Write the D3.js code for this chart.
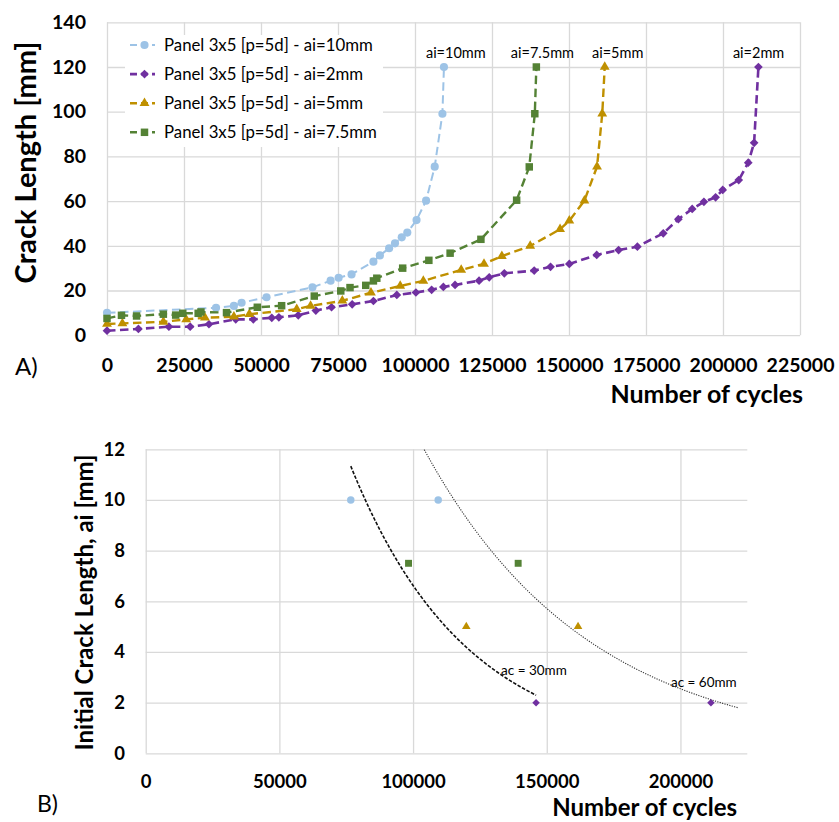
<!DOCTYPE html>
<html>
<head>
<meta charset="utf-8">
<script src="https://cdn.jsdelivr.net/npm/d3@7"></script>
<style>
  body { margin: 0; background: #fff; }
  svg { display: block; }
  text { font-family: Lato, "Open Sans", "DejaVu Sans", sans-serif; fill: #000; }
</style>
</head>
<body>
<svg id="chart" width="839" height="822"></svg>
<script>
// ---------- Panel A: crack growth curves ----------
const seriesNames = [
  "Panel 3x5 [p=5d] - ai=10mm",
  "Panel 3x5 [p=5d] - ai=2mm",
  "Panel 3x5 [p=5d] - ai=5mm",
  "Panel 3x5 [p=5d] - ai=7.5mm"
];
const endLabels = ["ai=10mm", "ai=2mm", "ai=5mm", "ai=7.5mm"];
const seriesColors = ["#9DC3E6", "#7030A0", "#BF9000", "#548235"];

const cyclesAi10 = [0, 35400, 41200, 43700, 51800, 66700, 72600, 75200, 79400, 86500, 88600, 91600, 93500, 95700, 97500, 100500, 103600, 106400, 108900, 109400];
const crackAi10  = [10, 12.3, 13.1, 14.5, 17.0, 21.4, 24.4, 25.7, 27.2, 32.9, 35.7, 38.9, 41.1, 43.8, 45.9, 51.5, 60.2, 75.4, 99.1, 120];

const cyclesAi2 = [0, 10200, 20100, 27000, 33100, 41800, 47500, 53500, 55800, 62100, 67800, 72900, 79600, 86500, 94100, 100300, 105400, 109200, 113000, 120800, 124100, 129000, 138700, 144000, 150100, 159000, 166100, 172200, 180600, 185500, 190000, 193800, 197600, 199900, 205100, 208200, 210100, 211500];
const crackAi2  = [2, 2.8, 3.8, 3.8, 4.9, 7.1, 7.1, 7.8, 8.0, 8.9, 11.0, 12.5, 13.8, 15.3, 18.0, 19.1, 20.3, 21.6, 22.5, 24.4, 25.9, 27.7, 28.9, 30.6, 31.9, 35.9, 38.1, 39.6, 45.6, 51.9, 56.5, 59.7, 61.7, 65.0, 69.4, 77.2, 86.1, 120];

const cyclesAi5 = [0, 5000, 18300, 25700, 31800, 41200, 46200, 61600, 66100, 76400, 85700, 95200, 102700, 115000, 122400, 128200, 137400, 147100, 150100, 155000, 159100, 160800, 161600];
const crackAi5  = [5, 5.3, 6.0, 7.1, 7.8, 8.3, 9.4, 11.6, 13.1, 15.4, 19.0, 22.0, 24.3, 29.2, 31.9, 35.4, 39.9, 47.4, 51.2, 60.2, 75.4, 99.1, 120];

const cyclesAi75 = [0, 4700, 9600, 18300, 22300, 24600, 29600, 30500, 38800, 48800, 56700, 67300, 75900, 78900, 84000, 86500, 87600, 96000, 104500, 111400, 121400, 133000, 137100, 138900, 139400];
const crackAi75  = [7.5, 8.9, 8.6, 9.4, 9.0, 9.8, 9.8, 10.4, 10.1, 12.5, 13.2, 17.5, 19.8, 21.3, 22.3, 24.3, 25.5, 30.0, 33.5, 36.7, 42.9, 60.4, 75.3, 99.1, 120];

const xTicksA = [0, 25000, 50000, 75000, 100000, 125000, 150000, 175000, 200000, 225000];
const yTicksA = [0, 20, 40, 60, 80, 100, 120, 140];

// ---------- Panel B: initial crack length vs cycles to critical length ----------
const initialCrack = [10, 2, 5, 7.5];
const cyclesToAc30 = [76700, 146000, 119900, 98300];
const cyclesToAc60 = [109400, 211400, 161700, 139300];
const trendLabels = ["ac = 30mm", "ac = 60mm"];
const xTicksB = [0, 50000, 100000, 150000, 200000];
const yTicksB = [0, 2, 4, 6, 8, 10, 12];

// ---------- drawing ----------
const svg = d3.select("#chart");
const gridColor = "#d9d9d9";

// marker shapes per series: circle, diamond, triangle, square
const diamond = { draw(ctx, size) { const r = Math.sqrt(size / 2); ctx.moveTo(0, -r); ctx.lineTo(r, 0); ctx.lineTo(0, r); ctx.lineTo(-r, 0); ctx.closePath(); } };
const symbolTypes = [d3.symbolCircle, diamond, d3.symbolTriangle, d3.symbolSquare];
const symbolSizesA = [52, 38, 42, 56];
const symbolSizesB = [44, 28, 32, 48];

const seriesA = [
  { x: cyclesAi10, y: crackAi10 },
  { x: cyclesAi2,  y: crackAi2 },
  { x: cyclesAi5,  y: crackAi5 },
  { x: cyclesAi75, y: crackAi75 }
].map((s, i) => ({ ...s, i, pts: s.x.map((v, k) => [v, s.y[k]]) }));

const xA = d3.scaleLinear().domain([0, 225000]).range([107, 800]);
const yA = d3.scaleLinear().domain([0, 140]).range([335.2, 22.3]);

// gridlines
const gA = svg.append("g");
gA.append("g").attr("transform", `translate(0,${yA(0)})`)
  .call(d3.axisBottom(xA).tickValues(xTicksA).tickSize(yA(140) - yA(0)).tickFormat(""))
  .call(g => g.select(".domain").remove())
  .call(g => g.selectAll("line").attr("stroke", gridColor).attr("stroke-width", 1.3));
gA.append("g").attr("transform", `translate(${xA(0)},0)`)
  .call(d3.axisLeft(yA).tickValues(yTicksA).tickSize(xA(0) - xA(225000)).tickFormat(""))
  .call(g => g.select(".domain").remove())
  .call(g => g.selectAll("line").attr("stroke", gridColor).attr("stroke-width", 1.3));

// tick labels
gA.append("g").attr("transform", `translate(0,${yA(0)})`)
  .call(d3.axisBottom(xA).tickValues(xTicksA).tickSize(0).tickPadding(23.4).tickFormat(d3.format("d")))
  .call(g => g.select(".domain").remove())
  .call(g => g.selectAll("text").attr("font-family", "Lato").attr("font-weight", "bold").attr("font-size", 19.5).attr("fill", "#000"));
gA.append("g").attr("transform", `translate(${xA(0)},0)`)
  .call(d3.axisLeft(yA).tickValues(yTicksA).tickSize(0).tickPadding(21))
  .call(g => g.select(".domain").remove())
  .call(g => g.selectAll("text").attr("font-family", "Lato").attr("font-weight", "bold").attr("font-size", 19.5).attr("fill", "#000"));

// axis titles
svg.append("text").attr("transform", `translate(36,162.5) rotate(-90)`)
  .attr("text-anchor", "middle").attr("font-weight", "bold").attr("font-size", 29)
  .text("Crack Length [mm]");
svg.append("text").attr("x", 803).attr("y", 403).attr("text-anchor", "end")
  .attr("font-weight", "bold").attr("font-size", 25).text("Number of cycles");
svg.append("text").attr("x", 15).attr("y", 375).attr("font-size", 24).text("A)");

// series lines and markers
const lineA = d3.line().x(d => xA(d[0])).y(d => yA(d[1]));
const lineWidths = [2, 2.6, 2.4, 2.4];
seriesA.forEach(s => {
  const g = svg.append("g");
  g.append("path").attr("d", lineA(s.pts)).attr("fill", "none")
    .attr("stroke", seriesColors[s.i]).attr("stroke-width", lineWidths[s.i])
    .attr("stroke-dasharray", "8.5,4.5");
  g.selectAll("path.m").data(s.pts).join("path").attr("class", "m")
    .attr("transform", d => `translate(${xA(d[0])},${yA(d[1])})`)
    .attr("d", d3.symbol().type(symbolTypes[s.i]).size(symbolSizesA[s.i]))
    .attr("fill", seriesColors[s.i]);
});

// labels above the final points
const endLabelDx = [-18, -25.5, -12.7, -25.5];
seriesA.forEach(s => {
  const last = s.pts[s.pts.length - 1];
  svg.append("text").attr("x", xA(last[0]) + endLabelDx[s.i]).attr("y", yA(last[1]) - 9.5)
    .attr("font-size", 14.5).attr("fill", "#222").text(endLabels[s.i]);
});

// legend
const legend = svg.append("g");
legend.append("rect").attr("x", 125).attr("y", 35).attr("width", 258).attr("height", 112).attr("fill", "#fff");
seriesA.forEach(s => {
  const cy = 45 + s.i * 29.1;
  legend.append("line").attr("x1", 130).attr("x2", 155).attr("y1", cy).attr("y2", cy)
    .attr("stroke", seriesColors[s.i]).attr("stroke-width", lineWidths[s.i]).attr("stroke-dasharray", "7,4");
  legend.append("path").attr("transform", `translate(144.5,${cy})`)
    .attr("d", d3.symbol().type(symbolTypes[s.i]).size(symbolSizesA[s.i])).attr("fill", seriesColors[s.i]);
  legend.append("text").attr("x", 164).attr("y", cy + 5.8).attr("font-size", 16.8).attr("fill", "#222").text(seriesNames[s.i]);
});

// ---------- Panel B ----------
const xB = d3.scaleLinear().domain([0, 225000]).range([145.7, 747.3]);
const yB = d3.scaleLinear().domain([0, 12]).range([753.3, 449.3]);

const gB = svg.append("g");
gB.append("g").attr("transform", `translate(0,${yB(0)})`)
  .call(d3.axisBottom(xB).tickValues(xTicksB).tickSize(yB(12) - yB(0)).tickFormat(""))
  .call(g => g.select(".domain").remove())
  .call(g => g.selectAll("line").attr("stroke", gridColor).attr("stroke-width", 1.3));
gB.append("g").attr("transform", `translate(${xB(0)},0)`)
  .call(d3.axisLeft(yB).tickValues(yTicksB).tickSize(xB(0) - xB(225000)).tickFormat(""))
  .call(g => g.select(".domain").remove())
  .call(g => g.selectAll("line").attr("stroke", gridColor).attr("stroke-width", 1.3));

gB.append("g").attr("transform", `translate(0,${yB(0)})`)
  .call(d3.axisBottom(xB).tickValues(xTicksB).tickSize(0).tickPadding(22).tickFormat(d3.format("d")))
  .call(g => g.select(".domain").remove())
  .call(g => g.selectAll("text").attr("font-family", "Lato").attr("font-weight", "bold").attr("font-size", 18.5).attr("fill", "#000"));
gB.append("g").attr("transform", `translate(${xB(0)},0)`)
  .call(d3.axisLeft(yB).tickValues(yTicksB).tickSize(0).tickPadding(20.7))
  .call(g => g.select(".domain").remove())
  .call(g => g.selectAll("text").attr("font-family", "Lato").attr("font-weight", "bold").attr("font-size", 18.5).attr("fill", "#000"));

svg.append("text").attr("transform", `translate(93,602.5) rotate(-90)`)
  .attr("text-anchor", "middle").attr("font-weight", "bold").attr("font-size", 24)
  .text("Initial Crack Length, ai [mm]");
svg.append("text").attr("x", 737).attr("y", 816).attr("text-anchor", "end")
  .attr("font-weight", "bold").attr("font-size", 24).text("Number of cycles");
svg.append("text").attr("x", 37).attr("y", 812).attr("font-size", 23).text("B)");

// exponential trendlines (least squares on ln y)
function expFit(xs, ys) {
  const ly = ys.map(Math.log);
  const mx = d3.mean(xs), my = d3.mean(ly);
  const sxy = d3.sum(xs, (x, k) => (x - mx) * (ly[k] - my));
  const sxx = d3.sum(xs, x => (x - mx) * (x - mx));
  const b = sxy / sxx, a = Math.exp(my - b * mx);
  return x => a * Math.exp(b * x);
}
svg.append("clipPath").attr("id", "clipB").append("rect")
  .attr("x", xB(0)).attr("y", yB(12)).attr("width", xB(225000) - xB(0)).attr("height", yB(0) - yB(12));

const trends = [
  { xs: cyclesToAc30, forecast: 0, dash: "3.5,1.6", width: 1.6, color: "#111" },
  { xs: cyclesToAc60, forecast: 10000, dash: "1.2,1.3", width: 1.1, color: "#333" }
];
trends.forEach(t => {
  const f = expFit(t.xs, initialCrack);
  const x0 = d3.min(t.xs) - t.forecast, x1 = d3.max(t.xs) + t.forecast;
  const pts = d3.range(0, 101).map(k => { const x = x0 + (x1 - x0) * k / 100; return [x, f(x)]; });
  svg.append("path").attr("clip-path", "url(#clipB)")
    .attr("d", d3.line().x(d => xB(d[0])).y(d => yB(d[1]))(pts))
    .attr("fill", "none").attr("stroke", t.color).attr("stroke-width", t.width).attr("stroke-dasharray", t.dash);
});

// trendline labels
svg.append("text").attr("x", xB(d3.max(cyclesToAc30)) - 35).attr("y", yB(2) - 27.5)
  .attr("font-size", 13.5).attr("fill", "#222").text(trendLabels[0]);
svg.append("text").attr("x", xB(d3.max(cyclesToAc60)) - 40).attr("y", yB(2) - 15.5)
  .attr("font-size", 13.5).attr("fill", "#222").text(trendLabels[1]);

// scatter markers
[cyclesToAc30, cyclesToAc60].forEach(arr => {
  arr.forEach((x, i) => {
    svg.append("path").attr("transform", `translate(${xB(x)},${yB(initialCrack[i])})`)
      .attr("d", d3.symbol().type(symbolTypes[i]).size(symbolSizesB[i]))
      .attr("fill", seriesColors[i]);
  });
});
</script>
</body>
</html>
